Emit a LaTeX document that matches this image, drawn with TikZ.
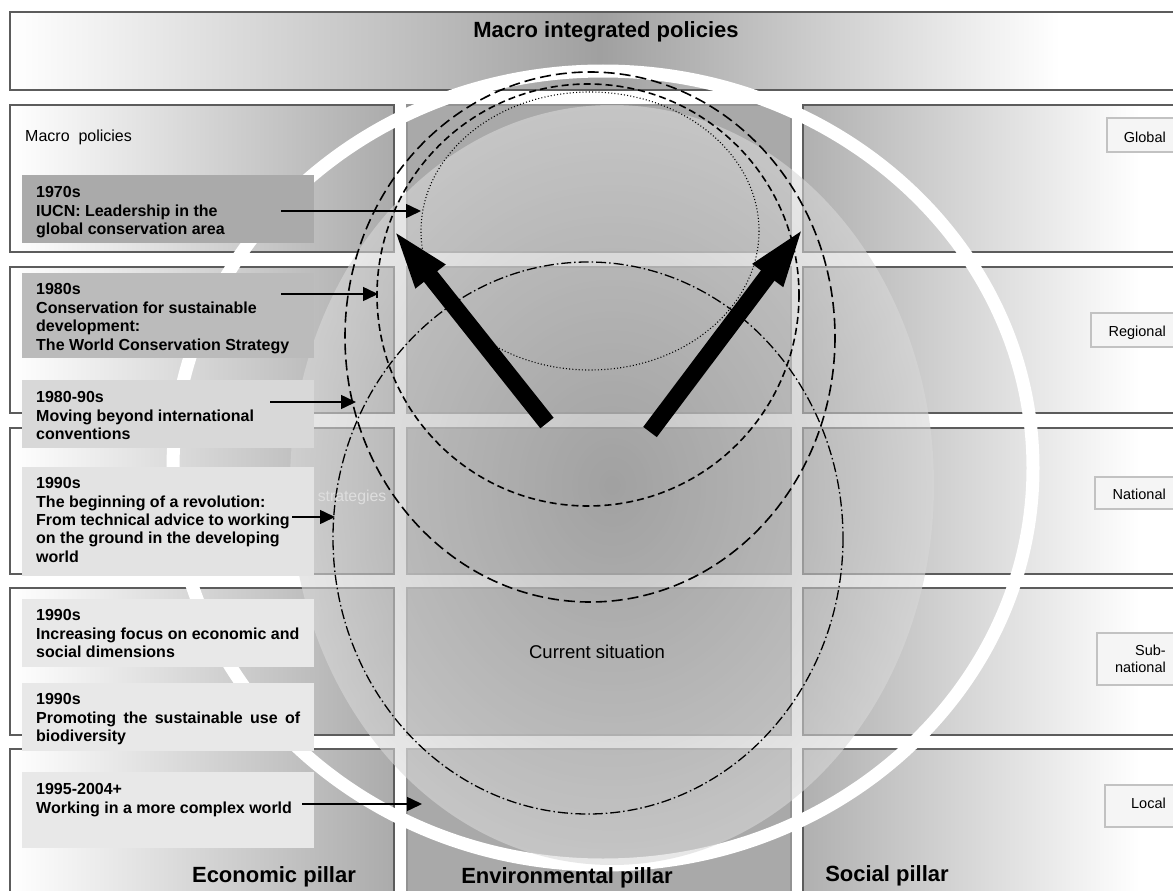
\documentclass[tikz,border=0pt]{standalone}
\usepackage{fontspec}
\setmainfont{Liberation Sans}
\usetikzlibrary{arrows.meta}
\definecolor{midgray}{HTML}{A0A0A0}
\definecolor{colgray}{HTML}{ABABAB}
\definecolor{cellgray}{HTML}{A9A9A9}
\definecolor{rightgray}{HTML}{B0B0B0}
\definecolor{outerborder}{HTML}{5C5C5C}
\definecolor{innerborder}{HTML}{939393}
\definecolor{boxA}{HTML}{AAAAAA}
\definecolor{boxB}{HTML}{BBBBBB}
\definecolor{boxC}{HTML}{D8D8D8}
\definecolor{boxD}{HTML}{E3E3E3}
\definecolor{boxE}{HTML}{E8E8E8}
\definecolor{sphin}{HTML}{9C9C9C}
\definecolor{sphout}{HTML}{D8D8D8}
\definecolor{lblfill}{HTML}{F5F5F5}
\definecolor{lblborder}{HTML}{C2C2C2}
\definecolor{faint}{HTML}{DEDEDE}
\tikzset{
  outerb/.style={draw=outerborder, line width=1.5pt},
  innerb/.style={draw=innerborder, line width=1.2pt},
  ringline/.style={draw=white, line width=13pt},
  dotline/.style={line width=1.1pt, dash pattern=on 1pt off 2.2pt},
  shortdash/.style={line width=1.6pt, dash pattern=on 7pt off 4pt},
  longdash/.style={line width=1.6pt, dash pattern=on 11pt off 5pt},
  dashdot/.style={line width=1.3pt, dash pattern=on 10pt off 3pt on 1.5pt off 3pt},
  bigarrow/.style={line width=17pt, -{Triangle[length=62pt,width=33pt]}},
  thinarrow/.style={line width=1.5pt, -{Triangle[length=15pt,width=14pt]}},
  evtext/.style={anchor=north west, inner sep=0pt, align=left, font=\fontsize{16}{18.4}\selectfont\bfseries},
  lblbox/.style={fill=lblfill, draw=lblborder, line width=1.5pt},
  lbltext/.style={inner sep=0pt, font=\fontsize{14.5}{17}\selectfont},
  pillar/.style={anchor=base, inner sep=0pt, font=\fontsize{22}{26}\selectfont\bfseries},
}
\begin{document}
\begin{tikzpicture}[x=1pt,y=-1pt]
\useasboundingbox (0,0) rectangle (1173,891);
\clip (0,0) rectangle (1173,891);
\fill[white] (0,0) rectangle (1173,891);
% top box
\shade[left color=white, right color=midgray] (10,12) rectangle (600,90);
\shade[left color=midgray, right color=white] (600,12) rectangle (1060,90);
\draw[outerb] (1180,12) -- (10,12) -- (10,90) -- (1180,90);
% grid rows
\foreach \t/\b in {105/252, 267/413, 428/574, 588/735, 749/905} {
  \shade[left color=white, right color=colgray] (10,\t) rectangle (394,\b);
  \draw[outerb] (10,\t) rectangle (394,\b);
  \fill[cellgray] (407,\t) rectangle (791,\b);
  \draw[innerb] (407,\t) rectangle (791,\b);
  \shade[left color=rightgray, right color=white] (803,\t) rectangle (1140,\b);
  \draw[outerb] (1180,\t) -- (803,\t) -- (803,\b) -- (1180,\b);
}
% white ring
\draw[ringline] (603,468) ellipse [x radius=430, y radius=397];
% sphere
\shade[inner color=sphin, outer color=sphout, opacity=0.6] (612,485) ellipse [x radius=322, y radius=380];
% ellipses
\draw[dotline] (590,231) ellipse [x radius=169, y radius=139];
\draw[shortdash] (588,295) ellipse [x radius=211, y radius=211];
\draw[longdash] (590,337) ellipse [x radius=245, y radius=265];
\draw[dashdot] (588,538) ellipse [x radius=255, y radius=276];
% big arrows
\coordinate (bigLs) at (547,423);
\coordinate (bigLe) at (392,228);
\coordinate (bigRs) at (650,432);
\coordinate (bigRe) at (805,226);
\draw[bigarrow] (bigLs) -- (bigLe);
\draw[bigarrow] (bigRs) -- (bigRe);
% left event boxes
\fill[boxA] (22,175) rectangle (314,243);
\fill[boxB] (22,273) rectangle (314,358);
\fill[boxC] (22,380) rectangle (314,448);
\fill[boxD] (22,467) rectangle (314,576);
\fill[boxE] (22,599) rectangle (314,667);
\fill[boxE] (22,683) rectangle (314,751);
\fill[boxE] (22,772) rectangle (314,848);
\node[evtext] (t70) at (36,186.3) {1970s\\IUCN: Leadership in the\\global conservation area};
\node[evtext] (t80) at (36,283.5) {1980s\\Conservation for sustainable\\development:\\The World Conservation Strategy};
\node[evtext] (t8090) at (36,391.3) {1980-90s\\Moving beyond international\\conventions};
\node[evtext] (t90a) at (36,477.3) {1990s\\The beginning of a revolution:\\From technical advice to working\\on the ground in the developing\\world};
\node[evtext] (t90b) at (36,609.3) {1990s\\Increasing focus on economic and\\social dimensions};
\node[evtext] (t90c) at (36,693.3) {1990s\\\makebox[264pt][s]{Promoting the sustainable use of}\\biodiversity};
\node[evtext] (t95) at (36,783.3) {1995-2004+\\Working in a more complex world};
% thin arrows
\coordinate (a1s) at (281,211); \coordinate (a1e) at (421,211);
\coordinate (a2s) at (281,294); \coordinate (a2e) at (378,294);
\coordinate (a3s) at (270,402); \coordinate (a3e) at (356,402);
\coordinate (a4s) at (292,517); \coordinate (a4e) at (335,517);
\coordinate (a5s) at (302,804); \coordinate (a5e) at (422,804);
\draw[thinarrow] (a1s) -- (a1e);
\draw[thinarrow] (a2s) -- (a2e);
\draw[thinarrow] (a3s) -- (a3e);
\draw[thinarrow] (a4s) -- (a4e);
\draw[thinarrow] (a5s) -- (a5e);
% texts
\node[pillar] (title) at (606,38) {Macro integrated policies};
\node[anchor=base west, inner sep=0pt, font=\fontsize{16}{18}\selectfont] (macro) at (25,141) {Macro\ \ policies};
\node[anchor=base, inner sep=0pt, text=faint, font=\fontsize{15.8}{18}\selectfont] (strat) at (352,501) {strategies};
\node[anchor=base, inner sep=0pt, font=\fontsize{18.5}{22}\selectfont] (cur) at (597,658) {Current situation};
\node[pillar] (econ) at (274,882) {Economic pillar};
\node[pillar] (envi) at (567,883) {Environmental pillar};
\node[pillar] (soc) at (887,881) {Social pillar};
% right labels
\draw[lblbox] (1107,118) rectangle (1180,152);
\draw[lblbox] (1091,313) rectangle (1180,347);
\draw[lblbox] (1095,477) rectangle (1180,509);
\draw[lblbox] (1097,633) rectangle (1180,685);
\draw[lblbox] (1105,785) rectangle (1180,827);
\node[lbltext, anchor=base east] (glob) at (1166,142) {Global};
\node[lbltext, anchor=base east] (reg) at (1166,336) {Regional};
\node[lbltext, anchor=base east] (nat) at (1166,499) {National};
\node[lbltext, anchor=north east, align=right] (sub) at (1166,644.5) {Sub-\\national};
\node[lbltext, anchor=base east] (loc) at (1166,808) {Local};
\end{tikzpicture}
\end{document}
